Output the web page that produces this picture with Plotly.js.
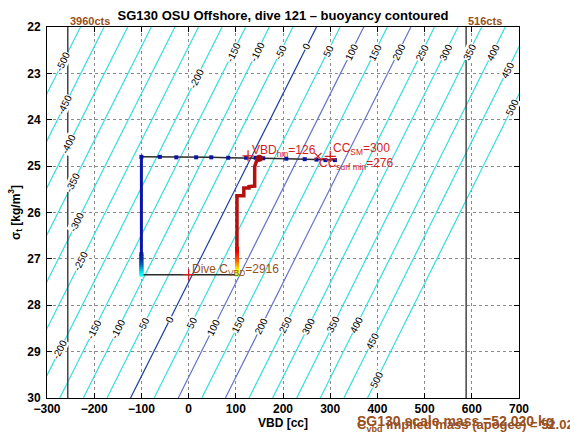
<!DOCTYPE html>
<html>
<head>
<meta charset="utf-8">
<script src="https://cdn.plot.ly/plotly-3.0.1.min.js"></script>
<style>html,body{margin:0;padding:0;background:#fff;}#chart{width:570px;height:439px;}</style>
</head>
<body>
<div id="chart"></div>
<script>
// ---- buoyancy contour levels [g] and where each line meets sigma=22 and sigma=30 (VBD, cc)
const levels       = [-500,-450,-400,-350,-300,-250,-200,-150,-100,-50,0,50,100,150,200,250,300,350,400,450,500];
const vbdAtSigma22 = [-229,-179,-129,-79,-29,21,71,121,171,221,271,321,371,421,471,521,571,621,671,721,771];
const vbdAtSigma30 = [-625,-574,-524,-474,-424,-374,-324,-273,-223,-173,-123,-73,-22,28,78,128,178,229,279,329,379];

// contour labels: [level, sigma along the line]
const labelPlacement = [
  [-500,22.75],[-450,23.68],[-400,24.54],[-350,25.36],[-300,26.22],[-250,27.06],[-200,23.10],[-200,28.96],
  [-150,22.54],[-150,28.52],[-100,22.54],[-100,28.52],[-50,22.54],[-50,28.42],[0,22.43],[0,28.31],
  [50,22.50],[50,28.37],[100,22.54],[100,28.48],[150,22.54],[150,28.42],[200,22.54],[200,28.46],
  [250,22.54],[250,28.42],[300,22.54],[300,28.46],[350,22.54],[350,28.42],[400,22.54],[400,28.42],
  [450,22.93],[450,28.78],[500,23.74],[500,29.60]
];

// VBD limits (counts -> cc)
const limitCounts = ['3960cts','516cts'];
const limitVBD    = [-256, 588];

// surface leg (sigma ~24.8)
const surfVBD   = [-100,-61,-26,16,48,84,122,142,158,207,246,271,290,310];
const surfSigma = [24.80,24.80,24.81,24.81,24.81,24.82,24.82,24.82,24.83,24.84,24.85,24.86,24.87,24.87];

// apogee leg (sigma ~27.34)
const apogeeVBD   = [-100, 102.5];
const apogeeSigma = [27.34, 27.34];

// descent at VBD = -100
const descentVBD   = [-100,-100];
const descentSigma = [24.80,27.34];
const descentGradSigma = [26.90,26.95,27.00,27.05,27.10,27.14,27.18,27.22,27.26,27.30,27.34];
const descentGradTime  = [0.05,0.07,0.09,0.11,0.14,0.17,0.21,0.25,0.29,0.33,0.37];

// ascent at VBD ~102 and final stair steps
const ascentVBD   = [102.5,102.5,117,117,128,128,140,140,144,150,154];
const ascentSigma = [26.80,25.64,25.64,25.47,25.47,25.44,25.43,25.01,24.89,24.84,24.83];
const ascentGradSigma = [27.34,27.30,27.26,27.22,27.18,27.14,27.10,27.06,27.02,26.98,26.94,26.90,26.86,26.82,26.78];
const ascentGradTime  = [0.52,0.56,0.60,0.63,0.66,0.69,0.72,0.75,0.78,0.80,0.82,0.84,0.86,0.88,0.90];

// marked values
const vbdFm = 126, ccSM = 300, ccSurfMin = 276, diveCvbd = 2916;
const markSigmaSurf = 24.78, markSigmaApogee = 27.34;
const scaleMass = '52.020', impliedMass = '52.020';

// ---------------------------------------------------------------
const cyan = '#36dede', zeroBlue = '#1c3c9c', slate = '#6272cc';
const brown = '#98501c', red = '#d81c1c';
function lineColor(L){ return L===0 ? zeroBlue : (L===100||L===200) ? slate : cyan; }

const groups = {};
levels.forEach((L,i)=>{
  const c = lineColor(L);
  if(!groups[c]) groups[c] = {x:[],y:[]};
  groups[c].x.push(vbdAtSigma22[i], vbdAtSigma30[i], null);
  groups[c].y.push(22, 30, null);
});
const traces = [];
[cyan, slate, zeroBlue].forEach(c=>{
  traces.push({type:'scatter', mode:'lines', x:groups[c].x, y:groups[c].y,
    line:{color:c, width:1.2}, hoverinfo:'skip'});
});
// limit lines
traces.push({type:'scatter', mode:'lines',
  x:[limitVBD[0],limitVBD[0],null,limitVBD[1],limitVBD[1]],
  y:[22,30,null,22,30], line:{color:'#444', width:1.5}});
// surface leg
traces.push({type:'scatter', mode:'lines+markers', x:surfVBD, y:surfSigma,
  line:{color:'#2a2a2a', width:1.5}, marker:{color:'#0a14a8', size:4, symbol:'square'}});
// apogee leg
traces.push({type:'scatter', mode:'lines', x:apogeeVBD, y:apogeeSigma,
  line:{color:'#2a2a2a', width:1.5}});
// descent
traces.push({type:'scatter', mode:'lines', x:descentVBD, y:descentSigma,
  line:{color:'#0a14a8', width:3}});
traces.push({type:'scatter', mode:'markers', x:descentGradSigma.map(()=>descentVBD[0]), y:descentGradSigma,
  marker:{symbol:'square', size:4, color:descentGradTime, colorscale:'Jet', cmin:0, cmax:1, line:{width:0}}});
// ascent
traces.push({type:'scatter', mode:'lines', x:ascentVBD, y:ascentSigma,
  line:{color:'#b41010', width:3.5}});
traces.push({type:'scatter', mode:'markers', x:ascentGradSigma.map(()=>ascentVBD[0]), y:ascentGradSigma,
  marker:{symbol:'square', size:4, color:ascentGradTime, colorscale:'Jet', cmin:0, cmax:1, line:{width:0}}});
traces.push({type:'scatter', mode:'markers', x:[ascentVBD[ascentVBD.length-1]-4], y:[ascentSigma[ascentSigma.length-1]],
  marker:{symbol:'circle', size:7, color:'#9c0c0c'}});
// value marks
traces.push({type:'scatter', mode:'markers', x:[vbdFm, ccSM, 0], y:[markSigmaSurf, markSigmaSurf+0.01, markSigmaApogee],
  marker:{symbol:'cross-thin', size:8, line:{color:red, width:1.2}}});
traces.push({type:'scatter', mode:'markers', x:[ccSurfMin-2], y:[markSigmaSurf+0.01],
  marker:{symbol:'x-thin', size:7, line:{color:red, width:1.2}}});

const ann = [];
labelPlacement.forEach(([L,s])=>{
  const i = levels.indexOf(L);
  const x = vbdAtSigma22[i] + (vbdAtSigma30[i]-vbdAtSigma22[i])*(s-22)/8;
  ann.push({x:x, y:s, xref:'x', yref:'y', text:String(L), showarrow:false, textangle:-63.4,
    font:{family:'Liberation Sans, Arial', size:10, color:'#000'}, bgcolor:'#fff', borderpad:0});
});
const f = (sz,c,w)=>({family:'Liberation Sans, Arial', size:sz, color:c, weight:w||'normal'});
ann.push({x:limitVBD[0], y:22, xref:'x', yref:'y', text:limitCounts[0], showarrow:false, xanchor:'left', yanchor:'bottom', yshift:-2, font:f(11,brown,'bold')});
ann.push({x:limitVBD[1], y:22, xref:'x', yref:'y', text:limitCounts[1], showarrow:false, xanchor:'left', yanchor:'bottom', yshift:-2, font:f(11,brown,'bold')});
ann.push({x:vbdFm+5, y:24.67, xref:'x', yref:'y', text:'VBD<sub>hm</sub>=' + vbdFm, showarrow:false, xanchor:'left', yanchor:'middle', font:f(12,red)});
ann.push({x:ccSM+2, y:24.64, xref:'x', yref:'y', text:'CC<sub>SM</sub>=' + ccSM, showarrow:false, xanchor:'left', yanchor:'middle', font:f(12,red)});
ann.push({x:ccSurfMin-5, y:24.95, xref:'x', yref:'y', text:'CC<sub>surf min</sub>=' + ccSurfMin, showarrow:false, xanchor:'left', yanchor:'middle', font:f(12,red)});
ann.push({x:2, y:27.25, xref:'x', yref:'y', text:'Dive C<sub>VBD</sub>=' + diveCvbd, showarrow:false, xanchor:'left', yanchor:'middle', font:f(12,brown)});
ann.push({x:0.6525, y:-0.062, xref:'paper', yref:'paper', text:'SG130 scale mass =' + scaleMass + ' kg', showarrow:false, xanchor:'left', yanchor:'middle', font:f(14,brown,'bold')});
ann.push({x:0.6525, y:-0.075, xref:'paper', yref:'paper', text:'C<sub>vbd</sub> implied mass (apogee) = ' + impliedMass + ' kg', showarrow:false, xanchor:'left', yanchor:'middle', font:f(13,brown,'bold')});

const axisCommon = {
  showline:true, linecolor:'#000', linewidth:1, mirror:'ticks', ticks:'inside', ticklen:5, tickcolor:'#000',
  showgrid:true, gridcolor:'#8a8a8a', griddash:'dot', gridwidth:1, zeroline:false,
  tickfont:f(12,'#000','bold')
};
const layout = {
  width:570, height:439, paper_bgcolor:'#fff', plot_bgcolor:'#fff', showlegend:false,
  margin:{l:47, r:51, t:27, b:41},
  title:{text:'SG130 OSU Offshore, dive 121 – buoyancy contoured', font:f(13,'#000','bold'),
    x:0.5, xref:'paper', y:1-15/439, yref:'container', yanchor:'middle'},
  xaxis:Object.assign({}, axisCommon, {range:[-300,700], tickvals:[-300,-200,-100,0,100,200,300,400,500,600,700],
    ticktext:['−300','−200','−100','0','100','200','300','400','500','600','700'],
    title:{text:'VBD [cc]', font:f(12,'#000','bold'), standoff:2}}),
  yaxis:Object.assign({}, axisCommon, {range:[30,22], tickvals:[22,23,24,25,26,27,28,29,30], ticklabelstandoff:3,
    title:{text:'σ<sub>t</sub> [kg/m<sup>3</sup>]', font:f(12,'#000','bold'), standoff:4}}),
  annotations:ann
};
Plotly.newPlot('chart', traces, layout, {displayModeBar:false, staticPlot:true});
</script>
</body>
</html>
